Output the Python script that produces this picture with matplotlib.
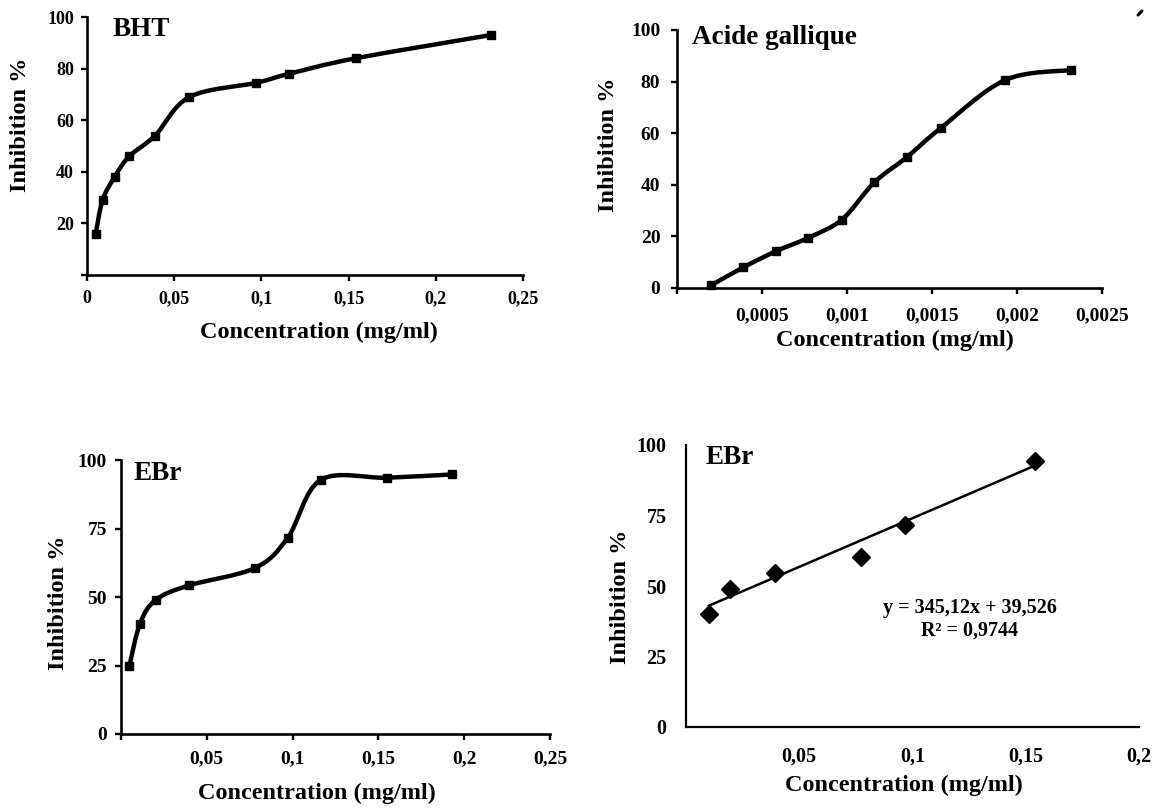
import matplotlib
matplotlib.use("Agg")
import matplotlib.pyplot as plt
from matplotlib.path import Path
from matplotlib.patches import PathPatch
from matplotlib.lines import Line2D
import numpy as np

# ---------------- data ----------------
bht_conc = [0.005, 0.0089, 0.0158, 0.0242, 0.039, 0.0587, 0.097, 0.116, 0.154, 0.2315]
bht_inhib = [16, 29, 38, 46, 54, 69, 74.5, 78, 84, 93]

ga_conc = [0.0002, 0.00039, 0.00058, 0.00077, 0.00097, 0.00116, 0.00135, 0.00155, 0.00193, 0.00232]
ga_inhib = [1.0, 8.0, 14.2, 19.4, 26.5, 40.9, 50.6, 61.9, 80.6, 84.5]

ebr_conc = [0.0049, 0.0111, 0.0202, 0.0394, 0.0781, 0.0972, 0.1164, 0.1553, 0.193]
ebr_inhib = [25, 40.4, 49, 54.3, 60.7, 71.8, 92.9, 93.7, 94.9]

ebr_lin_conc = [0.0101, 0.0195, 0.0391, 0.0773, 0.0965, 0.1543]
ebr_lin_inhib = [40.0, 49.0, 54.5, 60.4, 71.7, 94.3]
trend_slope = 345.12
trend_intercept = 39.526
trend_eq = "y = 345,12x + 39,526"
trend_r2 = "R² = 0,9744"

bht_xticks = [0, 0.05, 0.1, 0.15, 0.2, 0.25]
bht_xticklabels = ["0", "0,05", "0,1", "0,15", "0,2", "0,25"]
bht_yticks = [0, 20, 40, 60, 80, 100]
bht_yticklabels = ["", "20", "40", "60", "80", "100"]

ga_xticks = [0, 0.0005, 0.001, 0.0015, 0.002, 0.0025]
ga_xticklabels = ["", "0,0005", "0,001", "0,0015", "0,002", "0,0025"]
ga_yticks = [0, 20, 40, 60, 80, 100]
ga_yticklabels = ["0", "20", "40", "60", "80", "100"]

ebr_xticks = [0, 0.05, 0.1, 0.15, 0.2, 0.25]
ebr_xticklabels = ["", "0,05", "0,1", "0,15", "0,2", "0,25"]
ebr_yticks = [0, 25, 50, 75, 100]
ebr_yticklabels = ["0", "25", "50", "75", "100"]

lin_xticks = [0, 0.05, 0.1, 0.15, 0.2]
lin_xticklabels = ["", "0,05", "0,1", "0,15", "0,2"]
lin_yticks = [0, 25, 50, 75, 100]
lin_yticklabels = ["0", "25", "50", "75", "100"]

XLABEL = "Concentration (mg/ml)"
YLABEL = "Inhibition %"

# ---------------- figure ----------------
plt.rcParams["font.family"] = ["Liberation Serif", "DejaVu Serif"]
plt.rcParams["font.weight"] = "bold"
W, H = 1171, 810
fig = plt.figure(figsize=(W / 100, H / 100), dpi=100)


def fx(px):
    return px / W


def fy(py):
    return 1 - py / H


def make_axes(x0, x1, y_top, y_bot):
    return fig.add_axes([fx(x0), fy(y_bot), fx(x1) - fx(x0), fy(y_top) - fy(y_bot)])


def smooth_line(ax, xs, ys, lw=3.2):
    pts = np.column_stack([xs, ys]).astype(float)
    n = len(pts)
    verts = [pts[0]]
    codes = [Path.MOVETO]
    for i in range(n - 1):
        p0 = pts[i - 1] if i > 0 else pts[i]
        p1 = pts[i]
        p2 = pts[i + 1]
        p3 = pts[i + 2] if i + 2 < n else pts[i + 1]
        c1 = p1 + (p2 - p0) / 6.0
        c2 = p2 - (p3 - p1) / 6.0
        verts += [c1, c2, p2]
        codes += [Path.CURVE4] * 3
    patch = PathPatch(Path(verts, codes), facecolor="none", edgecolor="black",
                      lw=lw, capstyle="round", joinstyle="round")
    ax.add_patch(patch)


def style(ax, xlim, ylim, xt, xtl, yt, ytl, fs, xpad, ypad, ticklen=4.0):
    ax.set_xlim(*xlim)
    ax.set_ylim(*ylim)
    for s in ("top", "right"):
        ax.spines[s].set_visible(False)
    for s in ("left", "bottom"):
        ax.spines[s].set_linewidth(1.9)
    ax.set_xticks(xt)
    ax.set_xticklabels(xtl)
    ax.set_yticks(yt)
    ax.set_yticklabels(ytl)
    ax.tick_params(axis="both", direction="out", length=ticklen, width=1.7,
                   labelsize=fs, color="black")
    ax.tick_params(axis="x", pad=xpad)
    ax.tick_params(axis="y", pad=ypad)
    for lab in ax.get_xticklabels() + ax.get_yticklabels():
        lab.set_fontweight("bold")
    ax.patch.set_alpha(0)


def labels(ax, xl_pos, yl_pos, fs=17.5):
    ax.set_xlabel(XLABEL, fontsize=fs, fontweight="bold")
    ax.set_ylabel(YLABEL, fontsize=fs, fontweight="bold")
    ax.xaxis.label.set(va="center", ha="center")
    ax.yaxis.label.set(va="center", ha="center")
    ax.xaxis.set_label_coords(fx(xl_pos[0]), fy(xl_pos[1]), transform=fig.transFigure)
    ax.yaxis.set_label_coords(fx(yl_pos[0]), fy(yl_pos[1]), transform=fig.transFigure)


# ---- Panel 1: BHT ----
ax1 = make_axes(87, 523, 17, 275)
style(ax1, (0, 0.25), (0, 100), bht_xticks, bht_xticklabels, bht_yticks, bht_yticklabels,
      13, 7.0, 5.5)
smooth_line(ax1, bht_conc, bht_inhib)
ax1.plot(bht_conc, bht_inhib, ls="none", marker="s", ms=5.5, color="black", clip_on=False)
labels(ax1, (319, 332), (21, 125))
fig.text(fx(113), fy(30), "BHT", fontsize=19.5, fontweight="bold", ha="left", va="center")

# ---- Panel 2: Acide gallique ----
ax2 = make_axes(677, 1102, 30, 288)
style(ax2, (0, 0.0025), (0, 100), ga_xticks, ga_xticklabels, ga_yticks, ga_yticklabels,
      14, 10, 8)
smooth_line(ax2, ga_conc, ga_inhib)
ax2.plot(ga_conc, ga_inhib, ls="none", marker="s", ms=5.5, color="black", clip_on=False)
labels(ax2, (895, 340), (608, 145))
fig.text(fx(692), fy(38), "Acide gallique", fontsize=19.5, fontweight="bold", ha="left", va="center")
fig.add_artist(Line2D([fx(1138), fx(1142)], [fy(15), fy(11)], color="black", lw=2.2,
                      solid_capstyle="round", transform=fig.transFigure))

# ---- Panel 3: EBr smoothed ----
ax3 = make_axes(121, 550, 460.5, 734)
style(ax3, (0, 0.25), (0, 100), ebr_xticks, ebr_xticklabels, ebr_yticks, ebr_yticklabels,
      14, 8, 6)
smooth_line(ax3, ebr_conc, ebr_inhib)
ax3.plot(ebr_conc, ebr_inhib, ls="none", marker="s", ms=5.5, color="black", clip_on=False)
labels(ax3, (317, 793), (58, 603))
fig.text(fx(133), fy(474), "EBr", fontsize=19.5, fontweight="bold", ha="left", va="center")

# ---- Panel 4: EBr linear ----
ax4 = make_axes(686, 1139, 445, 727)
style(ax4, (0, 0.2), (0, 100), lin_xticks, lin_xticklabels, lin_yticks, lin_yticklabels,
      14.5, 14, 14, ticklen=0)
ax4.spines["left"].set_linewidth(1.6)
ax4.spines["bottom"].set_linewidth(1.6)
tx = np.array([min(ebr_lin_conc), max(ebr_lin_conc)])
ax4.plot(tx, trend_slope * tx + trend_intercept, color="black", lw=1.8)
ax4.plot(ebr_lin_conc, ebr_lin_inhib, ls="none", marker="D", ms=9, color="black", clip_on=False)
labels(ax4, (904, 785), (621, 597))
fig.text(fx(706), fy(457), "EBr", fontsize=19.5, fontweight="bold", ha="left", va="center")
fig.text(fx(970), fy(608), trend_eq, fontsize=14.5, fontweight="bold", ha="center", va="center")
fig.text(fx(970), fy(631), trend_r2, fontsize=14.5, fontweight="bold", ha="center", va="center")

fig.savefig("out.png", dpi=100)
